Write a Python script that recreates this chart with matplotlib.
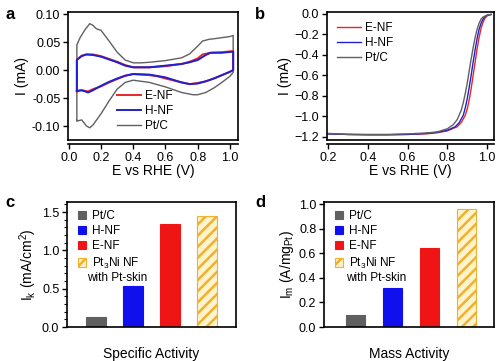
import numpy as np
import matplotlib.pyplot as plt
from matplotlib.ticker import MultipleLocator

plt.rcParams['font.family'] = ['Liberation Sans', 'DejaVu Sans']
plt.rcParams['mathtext.fontset'] = 'custom'
plt.rcParams['mathtext.rm'] = 'Liberation Sans'
plt.rcParams['mathtext.it'] = 'Liberation Sans:italic'
plt.rcParams['hatch.linewidth'] = 1.8
plt.rcParams['font.size'] = 8

# ---- panel a: CV curves (closed loops: anodic then cathodic) ----
pt_x = [0.05, 0.05, 0.07, 0.10, 0.13, 0.15, 0.17, 0.20, 0.25, 0.30, 0.35, 0.40, 0.45, 0.50,
        0.60, 0.70, 0.75, 0.80, 0.83, 0.87, 0.90, 0.95, 1.00, 1.02,
        1.02, 1.00, 0.95, 0.90, 0.85, 0.80, 0.77, 0.70, 0.60, 0.50, 0.45, 0.40, 0.35, 0.30,
        0.25, 0.20, 0.17, 0.15, 0.13, 0.11, 0.08, 0.05, 0.05]
pt_y = [-0.090, 0.045, 0.058, 0.072, 0.083, 0.080, 0.074, 0.071, 0.052, 0.032, 0.018, 0.013, 0.013, 0.014,
        0.017, 0.022, 0.029, 0.043, 0.052, 0.055, 0.056, 0.058, 0.060, 0.062,
        -0.004, -0.011, -0.022, -0.032, -0.040, -0.044, -0.044, -0.040, -0.030, -0.022, -0.020, -0.018, -0.022, -0.034,
        -0.055, -0.078, -0.090, -0.098, -0.103, -0.100, -0.089, -0.091, -0.090]

h_x = [0.05, 0.05, 0.08, 0.11, 0.15, 0.20, 0.25, 0.30, 0.35, 0.40, 0.50, 0.60, 0.70, 0.75,
       0.80, 0.85, 0.88, 0.95, 1.02,
       1.02, 1.00, 0.95, 0.90, 0.85, 0.80, 0.75, 0.70, 0.60, 0.50, 0.40, 0.35, 0.30,
       0.25, 0.20, 0.15, 0.12, 0.08, 0.05, 0.05]
h_y = [-0.037, 0.018, 0.025, 0.028, 0.027, 0.024, 0.019, 0.014, 0.008, 0.005, 0.005, 0.008, 0.011, 0.014,
       0.018, 0.027, 0.031, 0.031, 0.033,
       0.000, -0.003, -0.009, -0.015, -0.020, -0.024, -0.025, -0.022, -0.013, -0.008, -0.007, -0.010, -0.015,
       -0.021, -0.028, -0.036, -0.040, -0.036, -0.037, -0.037]

e_x = [0.05, 0.05, 0.08, 0.11, 0.15, 0.20, 0.25, 0.30, 0.35, 0.40, 0.50, 0.60, 0.70, 0.75,
       0.80, 0.83, 0.88, 0.95, 1.02,
       1.02, 1.00, 0.95, 0.90, 0.85, 0.80, 0.75, 0.70, 0.60, 0.55, 0.50, 0.40, 0.35, 0.30,
       0.25, 0.20, 0.15, 0.12, 0.08, 0.05, 0.05]
e_y = [-0.038, 0.019, 0.026, 0.028, 0.028, 0.025, 0.020, 0.015, 0.009, 0.005, 0.005, 0.007, 0.011, 0.015,
       0.021, 0.028, 0.031, 0.032, 0.034,
       0.000, -0.003, -0.009, -0.015, -0.020, -0.023, -0.025, -0.022, -0.015, -0.011, -0.009, -0.007, -0.010, -0.016,
       -0.022, -0.029, -0.034, -0.038, -0.036, -0.038, -0.038]

# ---- panel b: LSV curves ----
lsv_pt_x = [0.20, 0.30, 0.40, 0.50, 0.60, 0.70, 0.75, 0.80, 0.83, 0.85, 0.87, 0.88, 0.89, 0.90,
            0.91, 0.92, 0.93, 0.94, 0.95, 0.96, 0.97, 0.98, 1.00, 1.02]
lsv_pt_y = [-1.165, -1.175, -1.175, -1.175, -1.170, -1.160, -1.150, -1.120, -1.080, -1.030, -0.940, -0.870,
            -0.780, -0.680, -0.560, -0.440, -0.330, -0.230, -0.150, -0.090, -0.050, -0.030, -0.012, -0.005]
lsv_h_x = [0.20, 0.30, 0.40, 0.50, 0.60, 0.70, 0.75, 0.80, 0.84, 0.86, 0.88, 0.89, 0.90, 0.91,
           0.92, 0.93, 0.94, 0.95, 0.96, 0.97, 0.98, 0.99, 1.00, 1.02]
lsv_h_y = [-1.170, -1.175, -1.178, -1.178, -1.175, -1.165, -1.155, -1.135, -1.100, -1.060, -0.990, -0.920,
           -0.830, -0.720, -0.600, -0.470, -0.350, -0.240, -0.150, -0.090, -0.050, -0.025, -0.012, -0.005]
lsv_e_x = [0.20, 0.30, 0.40, 0.50, 0.60, 0.70, 0.75, 0.80, 0.85, 0.87, 0.89, 0.90, 0.91, 0.92,
           0.93, 0.94, 0.95, 0.96, 0.97, 0.98, 0.99, 1.00, 1.01, 1.02]
lsv_e_y = [-1.168, -1.175, -1.178, -1.178, -1.175, -1.168, -1.158, -1.140, -1.100, -1.060, -0.990, -0.930,
           -0.840, -0.730, -0.600, -0.470, -0.340, -0.230, -0.140, -0.080, -0.040, -0.020, -0.010, -0.005]

# ---- panels c, d: bars ----
catalysts = ['Pt/C', 'H-NF', 'E-NF', 'Pt$_3$Ni NF']
specific_activity = [0.13, 0.54, 1.34, 1.45]
mass_activity = [0.10, 0.32, 0.64, 0.96]

c_red = '#e8262a'
c_blue = '#2020d0'
c_gray = '#606060'
bar_colors = ['#606060', '#1010ee', '#f01515', '#fff3cc']
bar_edges = ['#606060', '#1010ee', '#f01515', '#f0b030']

fig = plt.figure(figsize=(5, 3.61), dpi=100)
ax_a = fig.add_axes([0.136, 0.612, 0.340, 0.355])
ax_b = fig.add_axes([0.654, 0.612, 0.334, 0.355])
ax_c = fig.add_axes([0.134, 0.094, 0.338, 0.346])
ax_d = fig.add_axes([0.648, 0.094, 0.340, 0.346])


def style_box(ax, offset_bottom=False):
    for s in ax.spines.values():
        s.set_linewidth(1.2)
    ax.tick_params(direction='out', length=3.5, width=1.0, labelsize=9, pad=2)
    if offset_bottom:
        ax.spines['bottom'].set_position(('outward', 3))
        ax.plot([0, 1], [0, 0], transform=ax.transAxes, color='k', lw=1.2,
                clip_on=False, solid_capstyle='projecting')


# a
ax_a.plot(pt_x, pt_y, color=c_gray, lw=1.0, label='Pt/C')
ax_a.plot(e_x, e_y, color=c_red, lw=1.4, label='E-NF')
ax_a.plot(h_x, h_y, color=c_blue, lw=1.4, label='H-NF')
ax_a.set_xlim(-0.005, 1.05)
ax_a.set_ylim(-0.125, 0.104)
ax_a.xaxis.set_major_locator(MultipleLocator(0.2))
ax_a.set_yticks([-0.10, -0.05, 0.0, 0.05, 0.10])
ax_a.set_yticklabels(['-0.10', '-0.05', '0.00', '0.05', '0.10'])
ax_a.set_xlabel('E vs RHE (V)', fontsize=10, labelpad=0)
ax_a.set_ylabel('I (mA)', fontsize=10, labelpad=2)
style_box(ax_a, True)
hd, lb = ax_a.get_legend_handles_labels()
order = [1, 2, 0]
ax_a.legend([hd[i] for i in order], [lb[i] for i in order], loc='lower left',
            bbox_to_anchor=(0.24, 0.0), frameon=False, fontsize=8.5,
            handlelength=2.0, handletextpad=0.4, labelspacing=0.25, borderpad=0.2)

# b
ax_b.plot(lsv_e_x, lsv_e_y, color=c_red, lw=1.0, label='E-NF')
ax_b.plot(lsv_h_x, lsv_h_y, color=c_blue, lw=1.0, label='H-NF')
ax_b.plot(lsv_pt_x, lsv_pt_y, color=c_gray, lw=1.0, label='Pt/C')
ax_b.set_xlim(0.195, 1.035)
ax_b.set_ylim(-1.23, 0.02)
ax_b.xaxis.set_major_locator(MultipleLocator(0.2))
ax_b.yaxis.set_major_locator(MultipleLocator(0.2))
ax_b.set_xlabel('E vs RHE (V)', fontsize=10, labelpad=0)
ax_b.set_ylabel('I (mA)', fontsize=10, labelpad=2)
style_box(ax_b, True)
ax_b.legend(loc='upper left', bbox_to_anchor=(0.0, 1.0), frameon=False, fontsize=8.5,
            handlelength=2.0, handletextpad=0.4, labelspacing=0.25, borderpad=0.35)


def bar_panel(ax, vals, ylim, major, minor, xlim, xlabel, ylabel, skin_x):
    idx = np.arange(len(vals))
    for i in idx:
        ax.bar(idx[i], vals[i], width=0.52, color=bar_colors[i], edgecolor=bar_edges[i],
               linewidth=0.8, hatch='///' if i == 3 else None, label=catalysts[i])
    ax.set_xlim(*xlim)
    ax.set_ylim(*ylim)
    ax.set_xticks([])
    ax.yaxis.set_major_locator(MultipleLocator(major))
    if minor:
        ax.yaxis.set_minor_locator(MultipleLocator(minor))
        ax.tick_params(which='minor', direction='out', length=2, width=0.8)
    style_box(ax)
    ax.set_xlabel(xlabel, fontsize=10, labelpad=14)
    ax.set_ylabel(ylabel, fontsize=10, labelpad=2)
    ax.legend(loc='upper left', bbox_to_anchor=(0.02, 1.0), frameon=False, fontsize=8.5,
              handlelength=0.7, handleheight=0.7, handletextpad=0.5, labelspacing=0.28,
              borderpad=0.15)
    ax.text(skin_x, 0.395, 'with Pt-skin', transform=ax.transAxes, fontsize=8.5,
            va='center', ha='left')


bar_panel(ax_c, specific_activity, (0, 1.63), 0.5, 0.1, (-0.78, 3.78),
          'Specific Activity', 'I$_\\mathrm{k}$ (mA/cm$^\\mathrm{2}$)', 0.12)
bar_panel(ax_d, mass_activity, (0, 1.016), 0.2, None, (-0.85, 3.74),
          'Mass Activity', 'I$_\\mathrm{m}$ (A/mg$_\\mathrm{Pt}$)', 0.13)

for t, x, y in [('a', 0.01, 0.96), ('b', 0.51, 0.96), ('c', 0.01, 0.44), ('d', 0.51, 0.44)]:
    fig.text(x, y, t, fontsize=12, fontweight='bold', va='center')

fig.savefig('out.png', dpi=100)
